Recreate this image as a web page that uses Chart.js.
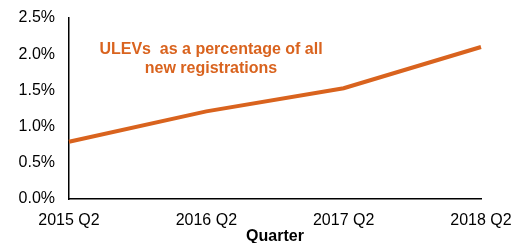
<!DOCTYPE html>
<html>
<head>
<meta charset="utf-8">
<script src="https://cdn.jsdelivr.net/npm/chart.js@4.4.0/dist/chart.umd.min.js"></script>
<style>
  html, body { margin: 0; padding: 0; background: #fff; }
  #wrap { width: 525px; height: 243px; }
</style>
</head>
<body>
<div id="wrap"><canvas id="chart"></canvas></div>
<script>
// data
const quarters = ["2015 Q2", "2016 Q2", "2017 Q2", "2018 Q2"];
const ulevShare = [0.79, 1.21, 1.53, 2.10];
const yTicks = [0, 0.5, 1.0, 1.5, 2.0, 2.5];

const orange = "#D9631E";

// label inside the plot
const noteLabel = {
  id: "noteLabel",
  afterDraw(chart) {
    const ctx = chart.ctx;
    ctx.save();
    ctx.font = "bold 16px 'Liberation Sans', Arial, sans-serif";
    ctx.fillStyle = orange;
    ctx.textAlign = "center";
    ctx.textBaseline = "middle";
    ctx.fillText("ULEVs  as a percentage of all", 211, 50);
    ctx.fillText("new registrations", 211, 69);
    ctx.restore();
  }
};

new Chart(document.getElementById("chart"), {
  type: "line",
  data: {
    labels: quarters,
    datasets: [{
      data: ulevShare,
      borderColor: orange,
      borderWidth: 4,
      pointRadius: 0,
      tension: 0,
      fill: false
    }]
  },
  options: {
    responsive: true,
    maintainAspectRatio: false,
    animation: false,
    layout: { padding: { top: 18, right: 44, bottom: 0, left: 0 } },
    plugins: {
      legend: { display: false },
      tooltip: { enabled: false }
    },
    scales: {
      x: {
        offset: false,
        grid: { display: false, drawTicks: false },
        border: { display: true, color: "#000", width: 1.5 },
        ticks: {
          color: "#000",
          padding: 12,
          maxRotation: 0,
          autoSkip: false,
          font: { family: "'Liberation Sans', Arial, sans-serif", size: 16 }
        },
        title: {
          display: true,
          text: "Quarter",
          color: "#000",
          padding: { top: 0, bottom: -2 },
          font: { family: "'Liberation Sans', Arial, sans-serif", size: 16, weight: "bold", lineHeight: 1 }
        },
        afterFit(scale) { scale.height = 44; scale.paddingLeft = 0; scale.paddingRight = 0; }
      },
      y: {
        min: 0,
        max: 2.5,
        grid: { display: false, drawTicks: false },
        border: { display: true, color: "#000", width: 1.5 },
        afterBuildTicks(scale) { scale.ticks = yTicks.map(v => ({ value: v })); },
        ticks: {
          color: "#000",
          padding: 14,
          font: { family: "'Liberation Sans', Arial, sans-serif", size: 16 },
          callback: v => v.toFixed(1) + "%"
        },
        afterFit(scale) { scale.width = 69; scale.paddingTop = 0; scale.paddingBottom = 0; }
      }
    }
  },
  plugins: [noteLabel]
});
</script>
</body>
</html>
